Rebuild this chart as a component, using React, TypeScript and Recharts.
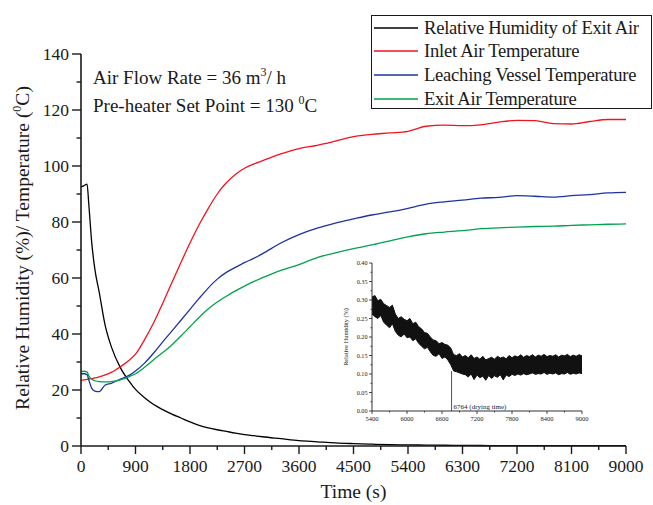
import { LineChart, Line, XAxis, YAxis, Legend, ComposedChart, Area, ReferenceLine } from 'recharts';

const FONT = "'Liberation Serif', 'Times New Roman', serif";
const INK = '#1a1a1a';

const timeS = [0, 50, 100, 130, 180, 230, 300, 400, 500, 650,
  800, 900, 1050, 1200, 1350, 1500, 1650, 1800, 1950, 2100,
  2250, 2400, 2550, 2700, 2850, 3000, 3300, 3600, 3900, 4200,
  4500, 4800, 5100, 5400, 5700, 6000, 6300, 6600, 6900, 7200,
  7500, 7800, 8100, 8400, 8700, 9000];
const rhExit = [92.5, 93, 93.5, 86, 72, 63, 55, 43, 35.5, 28,
  23, 20.2, 17.2, 14.8, 13, 11.4, 10, 8.6, 7.4, 6.5,
  5.8, 5.2, 4.6, 4.1, 3.7, 3.3, 2.6, 1.9, 1.5, 1.1,
  0.85, 0.65, 0.5, 0.4, 0.32, 0.27, 0.22, 0.18, 0.15, 0.13,
  0.12, 0.12, 0.12, 0.12, 0.12, 0.12];
const inletTemp = [23.5, 23.6, 23.8, 23.9, 24.1, 24.3, 24.7, 25.4, 26.3, 28.3,
  30.7, 32.8, 38, 44, 51, 58.3, 65.5, 72.5, 79, 84.8,
  90, 94, 97, 99.2, 100.7, 101.9, 104.3, 106.2, 107.4, 108.9,
  110.5, 111.3, 111.8, 112.4, 114.2, 114.6, 114.4, 114.7, 115.7, 116.3,
  116.2, 115.1, 115, 115.9, 116.6, 116.6];
const vesselTemp = [25.8, 25.8, 25.5, 23.5, 20.5, 19.6, 19.4, 21.8, 22.4, 23.9,
  25.3, 26.8, 29.6, 33.2, 37.2, 41, 44.9, 48.8, 52.7, 56.4,
  59.6, 62, 63.8, 65.5, 67, 68.7, 72.5, 75.5, 77.8, 79.6,
  81.1, 82.5, 83.6, 84.9, 86.4, 87.2, 87.8, 88.5, 88.8, 89.4,
  89.2, 88.9, 89.4, 89.8, 90.4, 90.6];
const exitTemp = [26.6, 26.7, 26.5, 25, 23.8, 23.3, 23, 22.9, 23, 23.6,
  24.8, 25.8, 28.1, 30.8, 33.4, 36.1, 39.3, 42.6, 45.9, 48.9,
  51.4, 53.5, 55.4, 57.1, 58.7, 60.1, 62.7, 64.8, 67.3, 69,
  70.5, 71.8, 73.3, 74.7, 75.8, 76.4, 76.9, 77.6, 77.9, 78.2,
  78.4, 78.5, 78.8, 79, 79.2, 79.3];

const seriesOrder = ['Relative Humidity of Exit Air', 'Inlet Air Temperature', 'Leaching Vessel Temperature', 'Exit Air Temperature'];

const xMajor = [0, 900, 1800, 2700, 3600, 4500, 5400, 6300, 7200, 8100, 9000];
const xMinor = [450, 1350, 2250, 3150, 4050, 4950, 5850, 6750, 7650, 8550];
const yMajor = [0, 20, 40, 60, 80, 100, 120, 140];
const yMinor = [10, 30, 50, 70, 90, 110, 130];

// inset: noisy RH band (lower / upper edge of the trace)
const insetTime = [5400, 5450, 5500, 5550, 5600, 5650, 5700, 5750, 5800, 5850,
  5900, 5950, 6000, 6050, 6100, 6150, 6200, 6250, 6300, 6350,
  6400, 6450, 6500, 6550, 6600, 6650, 6700, 6750, 6800, 6850,
  6900, 6950, 7000, 7050, 7100, 7150, 7200, 7250, 7300, 7350,
  7400, 7450, 7500, 7550, 7600, 7650, 7700, 7750, 7800, 7850,
  7900, 7950, 8000, 8050, 8100, 8150, 8200, 8250, 8300, 8350,
  8400, 8450, 8500, 8550, 8600, 8650, 8700, 8750, 8800, 8850,
  8900, 8950, 9000];
const insetLow = [0.262, 0.255, 0.25, 0.258, 0.24, 0.232, 0.225, 0.236, 0.215, 0.205,
  0.2, 0.208, 0.198, 0.2, 0.19, 0.195, 0.183, 0.175, 0.168, 0.172,
  0.16, 0.15, 0.148, 0.155, 0.142, 0.146, 0.138, 0.125, 0.108, 0.106,
  0.103, 0.1, 0.098, 0.092, 0.1, 0.085, 0.097, 0.09, 0.094, 0.083,
  0.096, 0.088, 0.095, 0.091, 0.098, 0.084, 0.097, 0.093, 0.099, 0.096,
  0.1, 0.097, 0.101, 0.098, 0.1, 0.103, 0.099, 0.101, 0.1, 0.104,
  0.099, 0.102, 0.1, 0.103, 0.098, 0.101, 0.1, 0.104, 0.099, 0.102,
  0.1, 0.103, 0.101];
const insetHigh = [0.308, 0.312, 0.298, 0.302, 0.29, 0.285, 0.28, 0.286, 0.262, 0.25,
  0.255, 0.248, 0.244, 0.25, 0.236, 0.24, 0.228, 0.222, 0.212, 0.21,
  0.2, 0.192, 0.19, 0.182, 0.185, 0.18, 0.178, 0.17, 0.152, 0.15,
  0.155, 0.146, 0.15, 0.144, 0.152, 0.142, 0.146, 0.14, 0.148, 0.138,
  0.142, 0.145, 0.14, 0.148, 0.143, 0.146, 0.141, 0.15, 0.144, 0.149,
  0.146, 0.152, 0.145, 0.15, 0.147, 0.152, 0.146, 0.151, 0.148, 0.153,
  0.147, 0.15, 0.148, 0.152, 0.146, 0.151, 0.149, 0.153, 0.147, 0.151,
  0.148, 0.152, 0.149];
const insetXMajor = [5400, 6000, 6600, 7200, 7800, 8400, 9000];
const insetXMinor = [5700, 6300, 6900, 7500, 8100, 8700];
const insetYMajor = [0, 0.05, 0.1, 0.15, 0.2, 0.25, 0.3, 0.35, 0.4];
const insetYMinor = [0.025, 0.075, 0.125, 0.175, 0.225, 0.275, 0.325, 0.375];
const dryingTime = 6764;

const mainRows = timeS.map((t, i) => ({
  t,
  rh: rhExit[i],
  inlet: inletTemp[i],
  vessel: vesselTemp[i],
  exit: exitTemp[i],
}));

const insetRows = insetTime.map((t, i) => ({ t, band: [insetLow[i], insetHigh[i]] }));

function xTick(major: number[], len: number, minorLen: number, size: number, dy: number, width: number) {
  return (props: any) => {
    const { x, y, payload } = props;
    const isMajor = major.includes(payload.value);
    return (
      <g>
        <line x1={x} x2={x} y1={y} y2={y + (isMajor ? len : minorLen)} stroke={INK} strokeWidth={width} />
        {isMajor && (
          <text x={x} y={y + dy} textAnchor="middle" fontSize={size} fontFamily={FONT} fill={INK}>
            {payload.value}
          </text>
        )}
      </g>
    );
  };
}

function yTick(major: number[], len: number, minorLen: number, size: number, gap: number, width: number, fmt: (v: number) => string) {
  return (props: any) => {
    const { x, y, payload } = props;
    const isMajor = major.includes(payload.value);
    return (
      <g>
        <line x1={x} x2={x - (isMajor ? len : minorLen)} y1={y} y2={y} stroke={INK} strokeWidth={width} />
        {isMajor && (
          <text x={x - len - gap} y={y} dy="0.34em" textAnchor="end" fontSize={size} fontFamily={FONT} fill={INK}>
            {fmt(payload.value)}
          </text>
        )}
      </g>
    );
  };
}

const renderLegend = (props: any) => {
  const items = [...(props.payload || [])].sort(
    (a: any, b: any) => seriesOrder.indexOf(a.value) - seriesOrder.indexOf(b.value),
  );
  return (
    <div style={{ width: 281, height: 94, border: `1px solid ${INK}`, background: '#fff', boxSizing: 'border-box' }}>
      {items.map((p: any) => (
        <div key={p.value} style={{ display: 'flex', alignItems: 'center', height: 23.6 }}>
          <svg width={48} height={6} style={{ marginLeft: 1 }}>
            <line x1={1} x2={45} y1={3} y2={3} stroke={p.color} strokeWidth={1.3} />
          </svg>
          <span style={{ fontFamily: FONT, fontSize: 18.6, letterSpacing: -0.25, color: INK, marginLeft: 3, whiteSpace: 'nowrap' }}>
            {p.value}
          </span>
        </div>
      ))}
    </div>
  );
};

function InsetChart() {
  return (
    <div style={{ position: 'absolute', left: 330, top: 255 }}>
      <ComposedChart width={260} height={185} data={insetRows} margin={{ top: 8, right: 8, bottom: 0, left: 0 }}>
        <XAxis
          dataKey="t"
          type="number"
          domain={[5400, 9000]}
          ticks={[...insetXMajor, ...insetXMinor]}
          interval={0}
          tick={xTick(insetXMajor, 3, 1.5, 6.5, 10, 0.8)}
          tickLine={false}
          tickSize={0}
          tickMargin={0}
          height={29}
          axisLine={{ stroke: '#333', strokeWidth: 1 }}
          label={() => (
            <text x={477} y={432 - 255} textAnchor="middle" fontSize={7} fontFamily={FONT} fill={INK}>Time (s)</text>
          )}
        />
        <XAxis xAxisId="top" orientation="top" type="number" domain={[5400, 9000]} height={0} tick={false} tickLine={false} axisLine={{ stroke: '#333', strokeWidth: 1 }} />
        <YAxis
          type="number"
          domain={[0, 0.4]}
          ticks={[...insetYMajor, ...insetYMinor]}
          interval={0}
          width={42}
          tick={yTick(insetYMajor, 3, 1.5, 6.2, 1.5, 0.8, (v) => v.toFixed(2))}
          tickLine={false}
          tickSize={0}
          tickMargin={0}
          axisLine={{ stroke: '#333', strokeWidth: 1 }}
          label={() => (
            <text transform={`translate(${348 - 330},${337 - 255}) rotate(-90)`} textAnchor="middle" fontSize={6.3} fontFamily={FONT} fill={INK}>
              Relative Humidity (%)
            </text>
          )}
        />
        <YAxis yAxisId="r" orientation="right" type="number" domain={[0, 0.4]} width={0} tick={false} tickLine={false} axisLine={{ stroke: '#333', strokeWidth: 1 }} />
        <Area
          dataKey="band"
          type="linear"
          stroke="#111"
          strokeWidth={1}
          fill="#111"
          fillOpacity={1}
          dot={false}
          activeDot={false}
          isAnimationActive={false}
        />
        <ReferenceLine
          segment={[{ x: dryingTime, y: 0 }, { x: dryingTime, y: 0.108 }]}
          stroke="#555"
          strokeWidth={1}
          label={{ value: '6764 (drying time)', position: 'insideBottomLeft', offset: 2, fontSize: 7, fontFamily: FONT, fill: INK }}
        />
      </ComposedChart>
    </div>
  );
}

export default function App() {
  return (
    <div style={{ position: 'absolute', left: 0, top: 0, width: 653, height: 505, background: '#fff' }}>
      <LineChart width={653} height={505} data={mainRows} margin={{ top: 54, right: 27, bottom: 0, left: 0 }}>
        <XAxis
          dataKey="t"
          type="number"
          domain={[0, 9000]}
          ticks={[...xMajor, ...xMinor]}
          interval={0}
          tick={xTick(xMajor, 8, 4, 17.5, 25.5, 1.4)}
          tickLine={false}
          tickSize={0}
          tickMargin={0}
          height={59}
          axisLine={{ stroke: INK, strokeWidth: 1.6 }}
          label={() => (
            <text x={353.5} y={498} textAnchor="middle" fontSize={19.5} fontFamily={FONT} fill={INK}>Time (s)</text>
          )}
        />
        <XAxis xAxisId="top" orientation="top" type="number" domain={[0, 9000]} height={0} tick={false} tickLine={false} axisLine={{ stroke: INK, strokeWidth: 1.4 }} />
        <YAxis
          type="number"
          domain={[0, 140]}
          ticks={[...yMajor, ...yMinor]}
          interval={0}
          width={81}
          tick={yTick(yMajor, 9, 4.5, 17.5, 3, 1.4, (v) => String(v))}
          tickLine={false}
          tickSize={0}
          tickMargin={0}
          axisLine={{ stroke: INK, strokeWidth: 1.6 }}
          label={() => (
            <text transform="translate(29,248) rotate(-90)" textAnchor="middle" fontSize={19.5} fontFamily={FONT} fill={INK}>
              Relative Humidity (%)/ Temperature (<tspan fontSize={12} dy={-8}>0</tspan><tspan dy={8}>C)</tspan>
            </text>
          )}
        />
        <YAxis yAxisId="r" orientation="right" type="number" domain={[0, 140]} width={0} tick={false} tickLine={false} axisLine={{ stroke: INK, strokeWidth: 1.4 }} />
        <Line dataKey="rh" name="Relative Humidity of Exit Air" type="monotone" stroke="#000" strokeWidth={1.3} dot={false} isAnimationActive={false} />
        <Line dataKey="inlet" name="Inlet Air Temperature" type="monotone" stroke="#f0141e" strokeWidth={1.3} dot={false} isAnimationActive={false} />
        <Line dataKey="vessel" name="Leaching Vessel Temperature" type="monotone" stroke="#1c34a0" strokeWidth={1.3} dot={false} isAnimationActive={false} />
        <Line dataKey="exit" name="Exit Air Temperature" type="monotone" stroke="#00a24e" strokeWidth={1.3} dot={false} isAnimationActive={false} />
        <Legend
          layout="vertical"
          align="center"
          verticalAlign="middle"
          width={281}
          height={94}
          wrapperStyle={{ left: 371, top: 15, right: 'auto', bottom: 'auto' }}
          content={renderLegend}
        />
      </LineChart>
      <div style={{ position: 'absolute', left: 93, top: 68, fontFamily: FONT, fontSize: 19, lineHeight: '19px', color: INK, whiteSpace: 'nowrap' }}>
        Air Flow Rate = 36 m<span style={{ fontSize: 12, position: 'relative', top: -8 }}>3</span>/ h
      </div>
      <div style={{ position: 'absolute', left: 93, top: 96, fontFamily: FONT, fontSize: 19, lineHeight: '19px', color: INK, whiteSpace: 'nowrap' }}>
        Pre-heater Set Point = 130 <span style={{ fontSize: 12, position: 'relative', top: -8 }}>0</span>C
      </div>
      <InsetChart />
    </div>
  );
}
